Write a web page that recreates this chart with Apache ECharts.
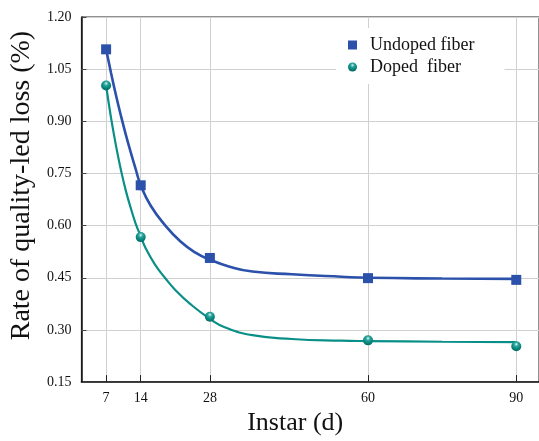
<!DOCTYPE html>
<html>
<head>
<meta charset="utf-8">
<style>
  html, body { margin: 0; padding: 0; background: #fff; }
  #chart { width: 539px; height: 441px; }
</style>
<script src="https://cdn.jsdelivr.net/npm/echarts@6/dist/echarts.min.js"></script>
</head>
<body>
<div id="chart"></div>
<script>
// Sampling days and measured loss rates
const days = [7, 14, 28, 60, 90];
const undoped = [1.107, 0.716, 0.507, 0.449, 0.444];
const doped = [1.003, 0.567, 0.338, 0.270, 0.253];

// Fitted decay curves
const fitDaysUndoped = [7, 8, 9, 10, 11, 12, 13, 14, 16, 19, 22, 25, 28, 32, 36.6, 44.6, 54.6, 60, 75, 90];
const fitUndoped = [1.107, 1.039, 0.975, 0.916, 0.861, 0.810, 0.762, 0.716, 0.658, 0.600, 0.555, 0.523, 0.502, 0.482, 0.468, 0.460, 0.453, 0.450, 0.448, 0.447];
const fitDaysDoped = [7, 8, 9, 10, 11, 12, 13, 14, 15, 16.9, 18.9, 21, 24, 28, 31, 36.6, 44.6, 54.6, 60, 75, 90];
const fitDoped = [1.003, 0.910, 0.830, 0.760, 0.700, 0.650, 0.605, 0.570, 0.535, 0.488, 0.450, 0.415, 0.375, 0.332, 0.308, 0.285, 0.274, 0.269, 0.268, 0.266, 0.265];

const xTicks = [7, 14, 28, 60, 90];
const yLabels = ['0.15', '0.30', '0.45', '0.60', '0.75', '0.90', '1.05', '1.20'];

const BLUE = '#2b51aa';
const TEAL = '#0a8f88';
const FONT = 'Liberation Serif';

const pairs = (xs, ys) => xs.map((x, i) => [x, ys[i]]);

const chart = echarts.init(document.getElementById('chart'), null, { renderer: 'canvas' });

chart.setOption({
  backgroundColor: '#fff',
  animation: false,
  grid: {
    left: 77, right: -1, top: 17, bottom: 51,
    show: true, borderColor: '#222', borderWidth: 1, backgroundColor: 'transparent'
  },
  legend: {
    data: ['Undoped fiber', 'Doped  fiber'],
    orient: 'vertical',
    left: 336, top: 28,
    padding: [8, 30, 8, 12],
    itemGap: 4,
    itemWidth: 9, itemHeight: 9,
    backgroundColor: '#fff',
    textStyle: { fontFamily: FONT, fontSize: 18, color: '#111', padding: [0, 0, 0, 8] }
  },
  xAxis: {
    type: 'value',
    min: 2, max: 94.6,
    name: 'Instar (d)',
    nameLocation: 'middle',
    nameGap: 24,
    nameTextStyle: { fontFamily: FONT, fontSize: 26, color: '#111', padding: [0, 30, 0, 0] },
    axisLine: { show: true, onZero: false, lineStyle: { color: '#111', width: 1.5 } },
    axisTick: { show: true, inside: true, length: 7, customValues: xTicks, lineStyle: { color: '#222' } },
    axisLabel: { customValues: xTicks, fontFamily: FONT, fontSize: 14, color: '#111', margin: 9 },
    splitLine: { show: true, lineStyle: { color: '#d0d0d0', width: 1 } }
  },
  yAxis: {
    type: 'value',
    min: 0.15, max: 1.2, interval: 0.15,
    name: 'Rate of quality-led loss (%)',
    nameLocation: 'middle',
    nameGap: 44,
    nameTextStyle: { fontFamily: FONT, fontSize: 28, color: '#111', padding: [0, 0, 0, 28] },
    axisLine: { show: true, lineStyle: { color: '#111', width: 1.5 } },
    axisTick: { show: true, inside: true, length: 5, lineStyle: { color: '#444' } },
    axisLabel: {
      fontFamily: FONT, fontSize: 14, color: '#111', margin: 10,
      formatter: v => yLabels[Math.round((v - 0.15) / 0.15)]
    },
    splitLine: { show: true, lineStyle: { color: '#d0d0d0', width: 1 } }
  },
  series: [
    {
      name: 'Undoped fit', type: 'line', data: pairs(fitDaysUndoped, fitUndoped),
      smooth: 0.5, symbol: 'none', z: 2,
      lineStyle: { color: BLUE, width: 2.6 }
    },
    {
      name: 'Doped fit', type: 'line', data: pairs(fitDaysDoped, fitDoped),
      smooth: 0.5, symbol: 'none', z: 2,
      lineStyle: { color: TEAL, width: 2.2 }
    },
    {
      name: 'Undoped fiber', type: 'scatter', data: pairs(days, undoped),
      symbol: 'rect', symbolSize: 10, z: 3,
      itemStyle: { color: BLUE, opacity: 1 }
    },
    {
      name: 'Doped  fiber', type: 'scatter', data: pairs(days, doped),
      symbol: 'circle', symbolSize: 10, z: 3,
      itemStyle: {
        opacity: 1,
        color: {
          type: 'radial', x: 0.5, y: 0.3, r: 0.7,
          colorStops: [
            { offset: 0, color: '#dff3f1' },
            { offset: 0.3, color: '#2aa49c' },
            { offset: 0.65, color: '#08877f' },
            { offset: 1, color: '#046862' }
          ]
        }
      }
    }
  ]
});
</script>
</body>
</html>
